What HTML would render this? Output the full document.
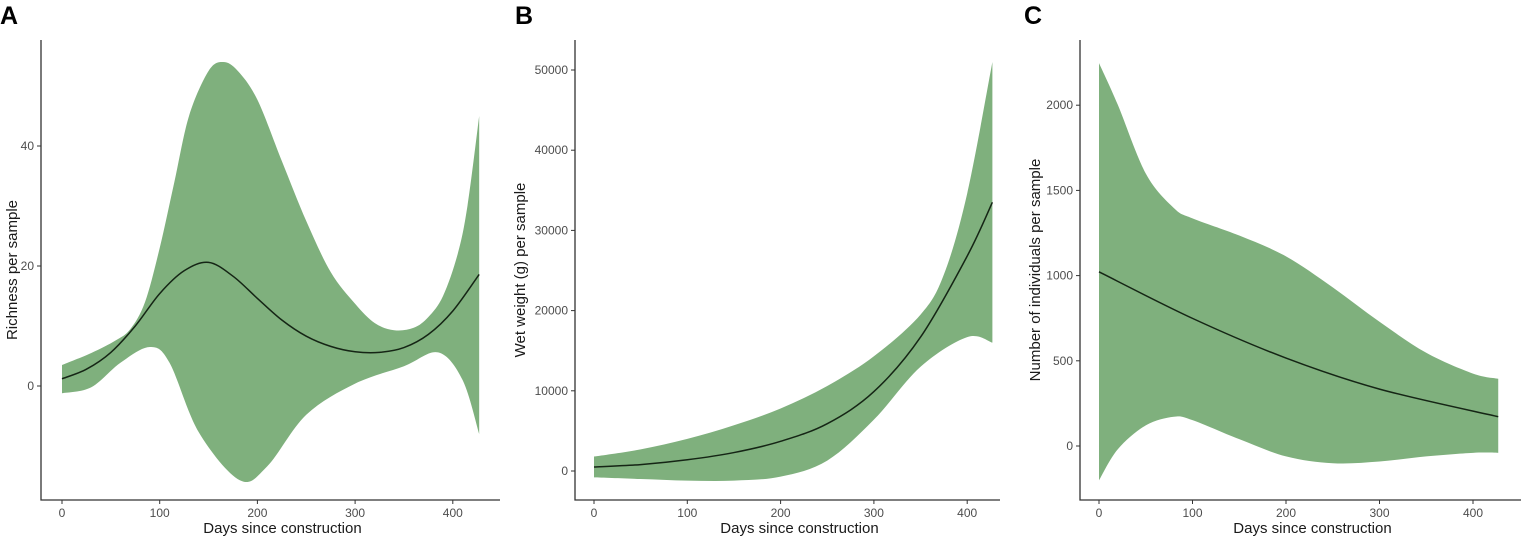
<!DOCTYPE html>
<html><head><meta charset="utf-8"><style>
body{margin:0;background:#fff;}
svg{display:block;font-family:"Liberation Sans",Arial,sans-serif;}
.tick{font-size:12px;fill:#4d4d4d;}
.title{font-size:15px;fill:#1a1a1a;}
.letter{font-size:25px;font-weight:bold;fill:#000;}
</style></head><body>
<svg id="chart" width="1525" height="542" viewBox="0 0 1525 542"></svg>
<script>
// Panel A: richness
const aDays=[0,30,55,70,85,100,115,130,150,165,180,200,225,250,275,300,320,340,360,375,390,405,415,427];
const aUpper=[3.5,5.5,7.6,9.5,14,23,34,45,52.5,54,52.5,47.7,37.5,27.5,19,13.7,10.5,9.3,9.7,11.5,15,22,30,45];
const aMidDays=[0,25,50,75,100,125,150,175,200,225,250,275,300,325,350,375,400,427];
const aMid=[1.2,2.8,5.6,10,15.4,19.2,20.6,18.3,14.6,11,8.3,6.6,5.7,5.6,6.4,8.6,12.5,18.6];
const aLowDays=[0,30,60,90,110,140,182,210,250,300,350,385,410,427];
const aLower=[-1.2,-0.2,3.9,6.5,3.9,-7.7,-15.7,-13.4,-4.8,0.4,3.3,5.6,1,-8];
const aXTicks=[0,100,200,300,400];
const aYTicks=[0,20,40];
// Panel B: wet weight
const bDays=[0,50,100,150,200,250,300,350,375,400,427];
const bUpper=[1800,2700,4000,5700,7800,10600,14300,19500,24500,34600,51000];
const bMidDays=[0,50,100,150,200,250,300,350,400,427];
const bMid=[500,800,1400,2300,3700,5900,9900,16700,26800,33500];
const bLowDays=[0,50,100,150,200,250,300,350,400,427];
const bLower=[-800,-1000,-1200,-1200,-700,1300,6400,13000,16700,16000];
const bXTicks=[0,100,200,300,400];
const bYTicks=[0,10000,20000,30000,40000,50000];
// Panel C: individuals
const cDays=[0,20,50,80,100,150,200,250,300,350,400,427];
const cUpper=[2247,2004,1599,1397,1336,1235,1113,931,729,547,425,395];
const cMidDays=[0,100,200,300,427];
const cMid=[1022,749,516,334,172];
const cLowDays=[0,20,50,80,100,150,200,250,300,350,400,427];
const cLower=[-202,-20,121,172,152,40,-61,-101,-91,-61,-40,-40];
const cXTicks=[0,100,200,300,400];
const cYTicks=[0,500,1000,1500,2000];

const NS="http://www.w3.org/2000/svg";
const svg=document.getElementById('chart');
function mk(tag,attrs,parent){const e=document.createElementNS(NS,tag);for(const k in attrs)e.setAttribute(k,attrs[k]);(parent||svg).appendChild(e);return e;}
function smooth(pts){
  let d=`M${pts[0][0].toFixed(2)},${pts[0][1].toFixed(2)}`;
  for(let i=0;i<pts.length-1;i++){
    const p0=pts[Math.max(0,i-1)],p1=pts[i],p2=pts[i+1],p3=pts[Math.min(pts.length-1,i+2)];
    const c1=[p1[0]+(p2[0]-p0[0])/6,p1[1]+(p2[1]-p0[1])/6];
    const c2=[p2[0]-(p3[0]-p1[0])/6,p2[1]-(p3[1]-p1[1])/6];
    d+=` C${c1[0].toFixed(2)},${c1[1].toFixed(2)} ${c2[0].toFixed(2)},${c2[1].toFixed(2)} ${p2[0].toFixed(2)},${p2[1].toFixed(2)}`;
  }
  return d;
}
function panel(cfg){
  const g=mk('g',{});
  
  
  const X=d=>cfg.x0+cfg.xs*d;
  const Y=v=>cfg.y0-cfg.ys*v;
  const up=cfg.upDays.map((d,i)=>[X(d),Y(cfg.upper[i])]);
  const lo=cfg.loDays.map((d,i)=>[X(d),Y(cfg.lower[i])]).reverse();
  let dd=smooth(up);
  dd+=' L'+lo[0][0].toFixed(2)+','+lo[0][1].toFixed(2)+smooth(lo).replace(/^M[^C]*/,' ')+' Z';
  const band=mk('path',{d:dd,fill:'#7fb07d',stroke:'none'},g);
  
  
  const line=mk('path',{d:smooth(cfg.midDays.map((d,i)=>[X(d),Y(cfg.mid[i])])),fill:'none',stroke:'#152515','stroke-width':1.5},g);
  
  
  const ax=mk('path',{d:`M${cfg.ax},40 V500 H${cfg.axEnd}`,fill:'none',stroke:'#333','stroke-width':1.3},g);
  
  
  cfg.xt.forEach(t=>{
    mk('line',{x1:X(t),x2:X(t),y1:500,y2:504,stroke:'#333'},g);
    const tx=mk('text',{x:X(t),y:517,'text-anchor':'middle',class:'tick'},g);
    tx.textContent=t;
    
    
  });
  cfg.yt.forEach(t=>{
    mk('line',{x1:cfg.ax-4,x2:cfg.ax,y1:Y(t),y2:Y(t),stroke:'#333'},g);
    const tx=mk('text',{x:cfg.ax-7,y:Y(t)+4,'text-anchor':'end',class:'tick'},g);
    tx.textContent=t;
    
    
  });
  const xt=mk('text',{x:(cfg.ax+cfg.axEnd)/2+12,y:533,'text-anchor':'middle',class:'title'},g);
  xt.textContent='Days since construction';
  
  
  const yt=mk('text',{x:cfg.ytx,y:270,'text-anchor':'middle',class:'title',transform:`rotate(-90 ${cfg.ytx} 270)`},g);
  yt.textContent=cfg.ytitle;
  
  
  const lt=mk('text',{x:cfg.lx,y:24,class:'letter'},g);
  lt.textContent=cfg.letter;
  
  
}
panel({name:'panel-a-richness',x0:62,xs:0.977,y0:386,ys:6.0,ax:41,axEnd:500,
  upDays:aDays,upper:aUpper,loDays:aLowDays,lower:aLower,midDays:aMidDays,mid:aMid,
  xt:aXTicks,yt:aYTicks,ytx:17,ytitle:'Richness per sample',letter:'A',lx:0});
panel({name:'panel-b-wet-weight',x0:594,xs:0.933,y0:471,ys:0.00802,ax:575,axEnd:1000,
  upDays:bDays,upper:bUpper,loDays:bLowDays,lower:bLower,midDays:bMidDays,mid:bMid,
  xt:bXTicks,yt:bYTicks,ytx:525,ytitle:'Wet weight (g) per sample',letter:'B',lx:515});
panel({name:'panel-c-individuals',x0:1099,xs:0.935,y0:446,ys:0.1704,ax:1080,axEnd:1521,
  upDays:cDays,upper:cUpper,loDays:cLowDays,lower:cLower,midDays:cMidDays,mid:cMid,
  xt:cXTicks,yt:cYTicks,ytx:1040,ytitle:'Number of individuals per sample',letter:'C',lx:1024});
</script>
</body></html>
